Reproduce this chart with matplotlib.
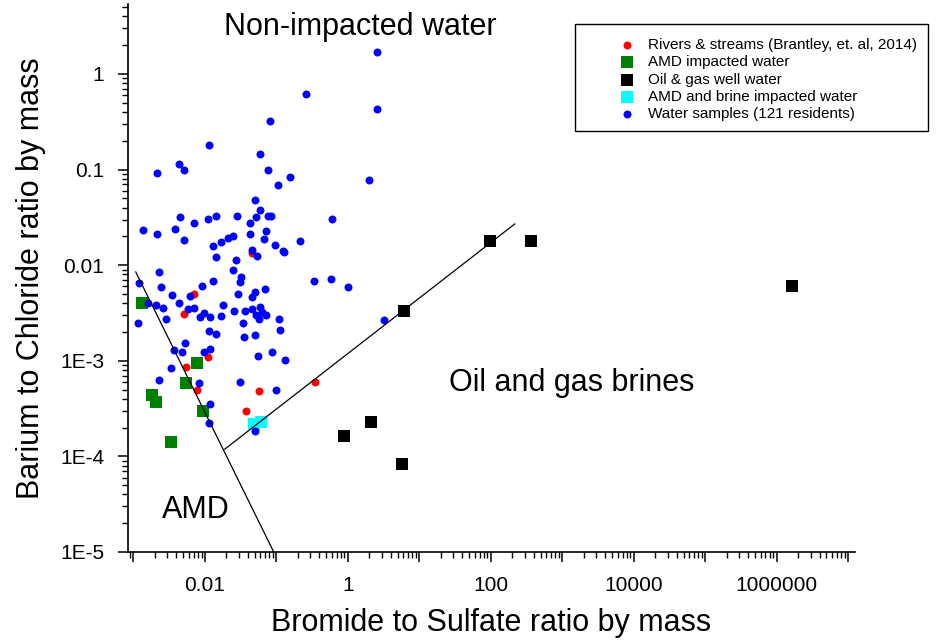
import matplotlib.pyplot as plt
from matplotlib.ticker import LogLocator, NullFormatter
from matplotlib.patches import Rectangle

plt.rcParams['font.family'] = ['Liberation Sans', 'DejaVu Sans']

# Bromide/Sulfate ratio (x) and Barium/Chloride ratio (y), both by mass
river_x = [0.00702, 0.00508, 0.0110, 0.0054, 0.0077, 0.0569, 0.0375, 0.345, 0.0454]
river_y = [0.0050, 0.0031, 0.00110, 0.00086, 0.000495, 0.000483, 0.000299, 0.0006, 0.0134]

amd_x = [0.00132, 0.00773, 0.0054, 0.00182, 0.00207, 0.00938, 0.00334]
amd_y = [0.0040, 0.00095, 0.00059, 0.00044, 0.00037, 0.0003, 0.000142]

well_x = [6.07, 96.8, 362, 1.67e6, 0.879, 2.10, 5.69]
well_y = [0.00332, 0.0179, 0.0179, 0.0061, 0.000163, 0.000229, 8.3e-5]

mixed_x = [0.0486, 0.0607]
mixed_y = [0.000218, 0.000229]

sample_x = [2.55, 0.259, 2.55, 0.0811, 0.0114, 0.0588, 0.00433, 0.00508, 0.00213, 0.0760,
            0.155, 1.97, 0.105, 0.050, 0.0588, 0.00447, 0.00702, 0.0110, 0.0143, 0.0281,
            0.0516, 0.0760, 0.0838, 0.0426, 0.597, 0.00136, 0.00213, 0.0038, 0.00508, 0.0129,
            0.0168, 0.021, 0.0247, 0.0426, 0.0713, 0.0668, 0.0953, 0.127, 0.213, 0.123,
            0.0454, 0.0533, 0.0143, 0.0272, 0.0247, 0.0318, 0.0309, 0.0129, 0.00908, 0.00228,
            0.00119, 0.00243, 0.00345, 0.00617, 0.029, 0.050, 0.0454, 0.069, 0.334, 0.578,
            1.0, 0.0016, 0.00207, 0.00259, 0.00433, 0.00578, 0.00702, 0.00968, 0.0117, 0.00851,
            0.0179, 0.0168, 0.0255, 0.0362, 0.0454, 0.0588, 0.0627, 0.0516, 0.0713, 0.108,
            0.00285, 0.00116, 0.034, 0.0569, 0.112, 3.18, 0.0114, 0.0143, 0.0351, 0.050,
            0.00525, 0.00368, 0.00476, 0.0117, 0.00968, 0.0551, 0.0865, 0.131, 0.00334, 0.00228,
            0.00824, 0.0309, 0.0984, 0.0117, 0.0114, 0.050]
sample_y = [1.70, 0.618, 0.43, 0.322, 0.181, 0.146, 0.1145, 0.0991, 0.0921, 0.0991,
            0.0837, 0.0778, 0.069, 0.0481, 0.0378, 0.0319, 0.0276, 0.0304, 0.0327, 0.0327,
            0.0319, 0.0327, 0.0327, 0.0276, 0.0304, 0.0233, 0.0212, 0.0239, 0.0184, 0.0159,
            0.0175, 0.0193, 0.0202, 0.0212, 0.0228, 0.0188, 0.0163, 0.0137, 0.0179, 0.0141,
            0.0144, 0.0125, 0.0122, 0.0113, 0.0089, 0.0075, 0.0067, 0.0068, 0.0061, 0.0085,
            0.0065, 0.0059, 0.0049, 0.0048, 0.0050, 0.0052, 0.00465, 0.0056, 0.0068, 0.0072,
            0.0059, 0.0040, 0.00384, 0.00357, 0.0040, 0.00348, 0.00357, 0.00316, 0.00287, 0.00287,
            0.00384, 0.00295, 0.00332, 0.00332, 0.00348, 0.00366, 0.00324, 0.00302, 0.00302, 0.00274,
            0.00274, 0.00249, 0.00249, 0.00274, 0.0021, 0.00267, 0.00205, 0.00191, 0.00177, 0.00186,
            0.00153, 0.0013, 0.00124, 0.00133, 0.00124, 0.00112, 0.00124, 0.00102, 0.00084, 0.00063,
            0.00059, 0.0006, 0.000495, 0.000353, 0.000223, 0.000185]

# boundary lines between the water types
amd_line_x = [0.00108, 0.092]
amd_line_y = [0.0085, 1e-5]
brine_line_x = [0.019, 217]
brine_line_y = [0.000119, 0.027]

xtick_vals = [1e-3, 1e-2, 1e-1, 1e0, 1e1, 1e2, 1e3, 1e4, 1e5, 1e6, 1e7]
xtick_labels = ['', '0.01', '', '1', '', '100', '', '10000', '', '1000000', '']
ytick_vals = [1e-5, 1e-4, 1e-3, 1e-2, 1e-1, 1]
ytick_labels = ['1E-5', '1E-4', '1E-3', '0.01', '0.1', '1']

fig = plt.figure(figsize=(9.43, 6.42), dpi=100)
ax = fig.add_axes([0.1357, 0.1402, 0.7709, 0.8536])

ax.scatter(river_x, river_y, s=33, c='#ff0000', marker='o', linewidths=0,
           label='Rivers & streams (Brantley, et. al, 2014)', zorder=2)
ax.scatter(amd_x, amd_y, s=78, c='#008000', marker='s', linewidths=0,
           label='AMD impacted water', zorder=2)
ax.scatter(well_x, well_y, s=78, c='#000000', marker='s', linewidths=0,
           label='Oil & gas well water', zorder=2)
ax.scatter(mixed_x, mixed_y, s=78, c='#00ffff', marker='s', linewidths=0,
           label='AMD and brine impacted water', zorder=2)
ax.scatter(sample_x, sample_y, s=33, c='#0000ff', marker='o', linewidths=0,
           label='Water samples (121 residents)', zorder=3)

ax.plot(amd_line_x, amd_line_y, color='black', lw=0.9, zorder=4)
ax.plot(brine_line_x, brine_line_y, color='black', lw=0.9, zorder=4)

ax.set_xscale('log')
ax.set_yscale('log')
ax.set_xlim(8.4e-4, 1.25e7)
ax.set_ylim(1e-5, 5.4)

ax.set_xticks(xtick_vals)
ax.set_xticklabels(xtick_labels)
ax.set_yticks(ytick_vals)
ax.set_yticklabels(ytick_labels)
ax.xaxis.set_minor_locator(LogLocator(base=10, subs=range(2, 10), numticks=30))
ax.yaxis.set_minor_locator(LogLocator(base=10, subs=range(2, 10), numticks=30))
ax.xaxis.set_minor_formatter(NullFormatter())
ax.yaxis.set_minor_formatter(NullFormatter())
ax.tick_params(which='major', length=7.5, width=1.1, labelsize=15, pad=9.5)
ax.tick_params(which='minor', length=4, width=1.0)

for side in ['top', 'right']:
    ax.spines[side].set_visible(False)
for side in ['left', 'bottom']:
    ax.spines[side].set_linewidth(1.2)

ax.set_xlabel('Bromide to Sulfate ratio by mass', fontsize=22, labelpad=10)
ax.set_ylabel('Barium to Chloride ratio by mass', fontsize=22, labelpad=10)

ax.text(1.5, 3.1, 'Non-impacted water', fontsize=22, ha='center', va='center')
ax.text(1360, 5.9e-4, 'Oil and gas brines', fontsize=22, ha='center', va='center')
ax.text(0.0075, 2.75e-5, 'AMD', fontsize=22, ha='center', va='center')

# legend frame drawn separately so the entries can sit off-centre inside it
fig.patches.append(Rectangle((575 / 943, 1 - 131 / 642), 353 / 943, 107 / 642,
                             transform=fig.transFigure, fill=False,
                             edgecolor='black', lw=1.0))
fig.legend(loc='upper left', bbox_to_anchor=(619 / 943, 1 - 38 / 642),
           frameon=False, fontsize=11, handlelength=1.0, handletextpad=0.9,
           labelspacing=0.22, borderpad=0, borderaxespad=0)

fig.savefig('out.png', dpi=100)
